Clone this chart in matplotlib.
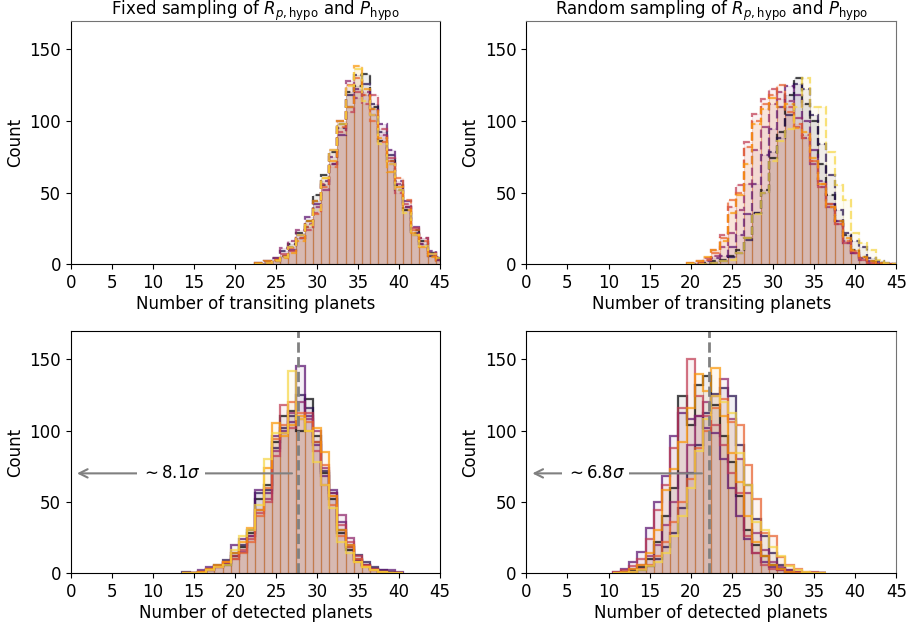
import numpy as np
import matplotlib.pyplot as plt

# --- data: counts per run (8 runs per panel), bins of width 1 centred on integers ---

# top-left: transiting planets, fixed sampling (first bin centred at 23)
tl_start = 23
tl_runs = [
    [0, 1, 2, 6, 14, 22, 30, 48, 62, 78, 98, 120, 124, 133, 110, 86, 72, 55, 38, 24, 16, 8, 4],
    [1, 2, 4, 9, 12, 18, 26, 44, 55, 70, 95, 118, 132, 126, 112, 92, 76, 52, 40, 22, 14, 6, 3],
    [0, 1, 3, 5, 10, 20, 33, 42, 58, 75, 90, 110, 122, 118, 108, 98, 80, 58, 44, 26, 18, 9, 5],
    [1, 2, 4, 11, 16, 24, 28, 40, 52, 70, 100, 128, 116, 120, 104, 90, 70, 56, 40, 20, 14, 7, 3],
    [0, 0, 2, 7, 9, 18, 24, 36, 56, 80, 92, 106, 120, 112, 118, 94, 74, 50, 42, 25, 18, 8, 4],
    [0, 1, 3, 6, 11, 18, 26, 35, 54, 68, 96, 125, 130, 118, 100, 85, 72, 60, 45, 24, 16, 6, 2],
    [1, 2, 3, 4, 8, 16, 30, 44, 60, 72, 100, 110, 138, 122, 108, 88, 64, 54, 38, 22, 12, 5, 3],
    [0, 1, 2, 5, 12, 20, 27, 38, 60, 80, 98, 124, 136, 114, 104, 84, 70, 52, 36, 20, 13, 7, 4],
]

# top-right: transiting planets, random sampling (first bin centred at 20)
tr_start = 20
tr_runs = [
    [0, 0, 1, 2, 3, 6, 10, 18, 36, 52, 74, 92, 118, 130, 112, 100, 70, 48, 30, 20, 10, 5, 2, 1, 0, 0],
    [0, 0, 0, 1, 2, 5, 8, 17, 36, 50, 78, 88, 104, 126, 122, 104, 84, 62, 38, 22, 16, 12, 4, 2, 1, 0],
    [0, 1, 2, 4, 6, 12, 20, 35, 56, 76, 94, 110, 124, 118, 100, 80, 58, 42, 30, 15, 8, 4, 2, 1, 0, 0],
    [0, 1, 3, 6, 12, 22, 38, 56, 80, 96, 112, 120, 114, 102, 88, 70, 54, 40, 28, 16, 8, 3, 1, 0, 0, 0],
    [1, 2, 4, 10, 20, 40, 55, 85, 105, 115, 122, 115, 110, 96, 90, 72, 54, 40, 28, 15, 8, 3, 1, 0, 0, 0],
    [0, 1, 3, 8, 18, 45, 50, 82, 100, 112, 118, 125, 106, 98, 88, 72, 56, 42, 28, 16, 9, 4, 1, 0, 0, 0],
    [1, 2, 5, 10, 16, 36, 48, 70, 98, 108, 116, 110, 112, 95, 92, 74, 56, 40, 30, 18, 10, 5, 2, 1, 0, 0],
    [0, 0, 0, 1, 2, 3, 8, 18, 35, 50, 72, 86, 94, 110, 130, 110, 110, 78, 55, 45, 22, 15, 10, 3, 1, 0],
]

# bottom-left: detected planets, fixed sampling (first bin centred at 14)
bl_start = 14
bl_runs = [
    [0, 0, 1, 2, 5, 6, 12, 18, 28, 52, 62, 92, 110, 114, 100, 122, 96, 70, 52, 28, 16, 9, 6, 3, 1, 0, 0],
    [1, 0, 0, 3, 6, 9, 14, 20, 30, 56, 58, 88, 102, 110, 125, 116, 92, 72, 56, 30, 18, 13, 8, 4, 2, 1, 0],
    [0, 0, 2, 4, 4, 7, 20, 24, 26, 58, 56, 96, 100, 106, 145, 110, 90, 68, 58, 36, 20, 10, 6, 3, 2, 2, 1],
    [0, 0, 1, 2, 5, 7, 10, 15, 26, 44, 52, 86, 98, 112, 120, 108, 100, 74, 56, 41, 25, 9, 5, 2, 1, 0, 0],
    [0, 0, 1, 3, 4, 8, 12, 16, 24, 42, 50, 82, 118, 102, 108, 112, 86, 62, 54, 34, 22, 12, 6, 3, 1, 0, 0],
    [0, 0, 1, 2, 4, 8, 10, 14, 22, 40, 60, 94, 104, 120, 112, 106, 92, 76, 48, 26, 18, 10, 5, 2, 1, 0, 0],
    [0, 0, 1, 3, 6, 8, 14, 22, 32, 44, 74, 105, 96, 104, 110, 100, 102, 85, 54, 30, 20, 8, 4, 2, 1, 0, 0],
    [0, 0, 0, 2, 4, 6, 16, 26, 30, 48, 80, 98, 98, 142, 108, 100, 78, 62, 46, 22, 14, 8, 4, 2, 1, 0, 0],
]

# bottom-right: detected planets, random sampling (first bin centred at 11)
br_start = 11
br_runs = [
    [0, 1, 2, 4, 10, 22, 40, 60, 124, 104, 132, 138, 118, 96, 78, 54, 30, 20, 12, 6, 3, 1, 0, 0, 0, 0],
    [0, 0, 1, 2, 5, 10, 18, 28, 46, 70, 90, 112, 126, 130, 124, 90, 62, 38, 26, 14, 6, 2, 1, 0, 0, 0],
    [1, 3, 8, 15, 32, 50, 68, 96, 112, 108, 110, 102, 98, 80, 60, 40, 24, 14, 8, 4, 2, 1, 0, 0, 0, 0],
    [0, 1, 3, 6, 12, 20, 34, 50, 70, 90, 110, 120, 124, 136, 108, 80, 56, 28, 16, 8, 4, 2, 1, 0, 0, 0],
    [1, 2, 5, 10, 24, 44, 62, 88, 116, 150, 124, 110, 104, 90, 70, 56, 26, 14, 6, 3, 2, 1, 1, 0, 1, 0],
    [0, 0, 1, 3, 6, 12, 22, 36, 50, 66, 88, 100, 116, 122, 106, 104, 76, 52, 28, 26, 11, 6, 3, 1, 0, 0],
    [0, 1, 3, 6, 14, 30, 58, 73, 92, 116, 140, 128, 144, 110, 84, 64, 40, 22, 12, 6, 3, 1, 0, 0, 0, 0],
    [0, 0, 1, 2, 5, 8, 14, 26, 40, 60, 86, 108, 124, 120, 112, 84, 62, 36, 30, 18, 12, 5, 2, 1, 0, 0],
]

bl_mark = 27.68
br_mark = 22.2
bl_sigma = r"$\sim 8.1\sigma$"
br_sigma = r"$\sim 6.8\sigma$"
tl_title = r"Fixed sampling of $R_{p,\mathrm{hypo}}$ and $P_{\mathrm{hypo}}$"
tr_title = r"Random sampling of $R_{p,\mathrm{hypo}}$ and $P_{\mathrm{hypo}}$"

colors = plt.cm.inferno(np.linspace(0, 0.9, 8))


def draw_runs(ax, start, runs, ls):
    for counts, c in zip(runs, colors):
        centers = np.arange(start, start + len(counts))
        edges = np.arange(start - 0.5, start + len(counts) + 0.5)
        _, _, bars = ax.hist(centers, bins=edges, weights=counts, histtype='bar', rwidth=1.0)
        for b in bars:
            b.set_facecolor((c[0], c[1], c[2], 0.06))
            b.set_edgecolor((c[0], c[1], c[2], 0.09))
            b.set_linewidth(0.8)
        ax.hist(centers, bins=edges, weights=counts, histtype='step',
                color=c, alpha=0.7, lw=1.6, ls=ls)


def style(ax, xlabel):
    ax.set_xlim(0, 45)
    ax.set_ylim(0, 170)
    ax.set_xticks(np.arange(0, 46, 5))
    ax.set_yticks([0, 50, 100, 150])
    ax.set_xlabel(xlabel, fontsize=12, labelpad=2)
    ax.set_ylabel("Count", fontsize=12)
    ax.tick_params(labelsize=12)


def top_title(ax, text):
    # baseline placed by hand, a little above the frame
    ax.annotate(text, xy=(0.5, 1.0), xycoords='axes fraction',
                xytext=(0, 4.3), textcoords='offset points',
                ha='center', va='baseline', fontsize=12)


def sigma_arrow(ax, x_mark, x_end, x_text, label):
    ax.axvline(x_mark, color='gray', ls='--', lw=2)
    ax.annotate('', xy=(0.4, 70), xytext=(x_end, 70),
                arrowprops=dict(arrowstyle='->', color='gray', lw=1.5,
                                mutation_scale=15))
    ax.text(x_text, 70, label, ha='center', va='center', fontsize=12,
            bbox=dict(fc='white', ec='none', pad=3))


fig = plt.figure(figsize=(9.09, 6.23), dpi=100)
ax_tl = fig.add_axes([0.078, 0.576, 0.406, 0.391])
ax_tr = fig.add_axes([0.579, 0.576, 0.407, 0.391])
ax_bl = fig.add_axes([0.078, 0.080, 0.406, 0.389])
ax_br = fig.add_axes([0.579, 0.080, 0.407, 0.389])

draw_runs(ax_tl, tl_start, tl_runs, '--')
draw_runs(ax_tr, tr_start, tr_runs, '--')
draw_runs(ax_bl, bl_start, bl_runs, '-')
draw_runs(ax_br, br_start, br_runs, '-')

style(ax_tl, "Number of transiting planets")
style(ax_tr, "Number of transiting planets")
style(ax_bl, "Number of detected planets")
style(ax_br, "Number of detected planets")

top_title(ax_tl, tl_title)
top_title(ax_tr, tr_title)

sigma_arrow(ax_bl, bl_mark, 27.3, 12.2, bl_sigma)
sigma_arrow(ax_br, br_mark, 21.7, 8.4, br_sigma)

# a few frame edges look grey in the original
ax_tl.spines['top'].set_color('0.45')
ax_tr.spines['top'].set_color('0.45')
ax_tr.spines['right'].set_color('0.45')
ax_br.spines['right'].set_color('0.45')

fig.savefig("out.png", dpi=100)
